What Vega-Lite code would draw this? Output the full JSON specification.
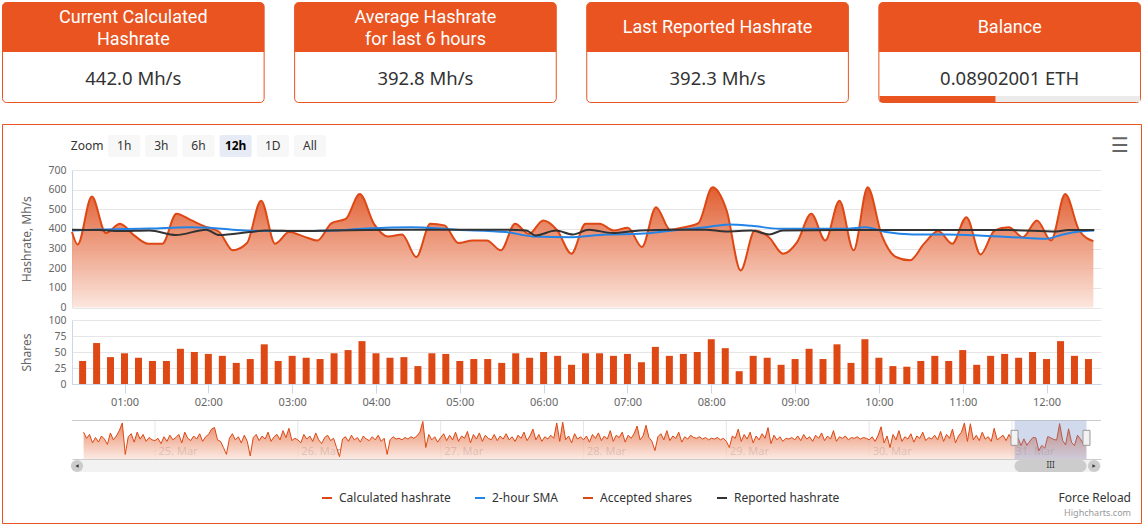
{
  "$schema": "https://vega.github.io/schema/vega-lite/v6.json",
  "width": 1144,
  "height": 526,
  "autosize": "none",
  "padding": 0,
  "background": "white",
  "config": {"view": {"stroke": null}, "font": "Noto Sans", "text": {"font": "Noto Sans"}},
  "title": {"text": "Force Reload", "subtitle": "Highcharts.com", "orient": "bottom", "anchor": "end", "frame": "group", "offset": -33, "dx": -13, "fontSize": 12, "fontWeight": "normal", "color": "#333333", "subtitleFontSize": 9, "subtitleColor": "#999999", "subtitlePadding": 4},
  "datasets": {
    "cards": [
      {"card": "c1", "title": "Current Calculated\nHashrate", "value": "442.0 Mh/s"},
      {"card": "c2", "title": "Average Hashrate\nfor last 6 hours", "value": "392.8 Mh/s"},
      {"card": "c3", "title": "Last Reported Hashrate", "value": "392.3 Mh/s"},
      {"card": "c4", "title": "Balance", "value": "0.08902001 ETH"}
    ],
    "balance": [{"part": "threshold", "from": 0, "to": 0.2}, {"part": "balance", "from": 0, "to": 0.08902001}],
    "buttons": [{"b": "Zoom"}, {"b": "1h"}, {"b": "3h"}, {"b": "6h"}, {"b": "12h"}, {"b": "1D"}, {"b": "All"}],
    "menu": [{"icon": "☰"}],
    "main": [
      {"h":0.433,"v":384},
      {"h":0.5,"v":321,"s":36},{"h":0.667,"v":565,"s":64},{"h":0.833,"v":379,"s":42},{"h":1,"v":426,"s":48},
      {"h":1.167,"v":367,"s":41},{"h":1.333,"v":325,"s":36},{"h":1.5,"v":325,"s":36},{"h":1.667,"v":477,"s":55},
      {"h":1.833,"v":446,"s":50},{"h":2,"v":413,"s":47},{"h":2.167,"v":387,"s":44},{"h":2.333,"v":291,"s":33},
      {"h":2.5,"v":328,"s":39},{"h":2.667,"v":544,"s":62},{"h":2.833,"v":325,"s":36},{"h":3,"v":384,"s":44},
      {"h":3.167,"v":362,"s":41},{"h":3.333,"v":341,"s":39},{"h":3.5,"v":430,"s":48},{"h":3.667,"v":451,"s":53},
      {"h":3.833,"v":578,"s":67},{"h":4,"v":426,"s":48},{"h":4.167,"v":362,"s":41},{"h":4.333,"v":372,"s":42},
      {"h":4.5,"v":257,"s":28},{"h":4.667,"v":426,"s":48},{"h":4.833,"v":418,"s":47},{"h":5,"v":328,"s":36},
      {"h":5.167,"v":341,"s":39},{"h":5.333,"v":341,"s":39},{"h":5.5,"v":291,"s":33},{"h":5.667,"v":426,"s":48},
      {"h":5.833,"v":375,"s":41},{"h":6,"v":443,"s":50},{"h":6.167,"v":392,"s":44},{"h":6.333,"v":274,"s":30},
      {"h":6.5,"v":426,"s":48},{"h":6.667,"v":426,"s":48},{"h":6.833,"v":392,"s":44},{"h":7,"v":406,"s":47},
      {"h":7.167,"v":308,"s":34},{"h":7.333,"v":511,"s":58},{"h":7.5,"v":396,"s":44},{"h":7.667,"v":409,"s":47},
      {"h":7.833,"v":430,"s":50},{"h":8,"v":612,"s":70},{"h":8.167,"v":494,"s":56},{"h":8.333,"v":189,"s":20},
      {"h":8.5,"v":392,"s":44},{"h":8.667,"v":358,"s":41},{"h":8.833,"v":274,"s":30},{"h":9,"v":333,"s":39},
      {"h":9.167,"v":477,"s":55},{"h":9.333,"v":341,"s":39},{"h":9.5,"v":544,"s":62},{"h":9.667,"v":291,"s":33},
      {"h":9.833,"v":612,"s":70},{"h":10,"v":367,"s":41},{"h":10.167,"v":257,"s":28},{"h":10.333,"v":240,"s":27},
      {"h":10.5,"v":325,"s":36},{"h":10.667,"v":389,"s":44},{"h":10.833,"v":325,"s":36},{"h":11,"v":460,"s":53},
      {"h":11.167,"v":270,"s":30},{"h":11.333,"v":392,"s":44},{"h":11.5,"v":409,"s":47},{"h":11.667,"v":358,"s":41},
      {"h":11.833,"v":443,"s":50},{"h":12,"v":341,"s":39},{"h":12.167,"v":578,"s":67},{"h":12.333,"v":392,"s":44},
      {"h":12.5,"v":338,"s":39}
    ],
    "sma": [
      {"h":0.433,"v":392},{"h":0.76,"v":397},{"h":1.35,"v":402},{"h":1.82,"v":409},{"h":2.06,"v":406},{"h":2.33,"v":396},
      {"h":2.72,"v":389},{"h":3.12,"v":389},{"h":3.51,"v":392},{"h":3.91,"v":402},{"h":4.44,"v":409},{"h":4.97,"v":396},
      {"h":5.56,"v":384},{"h":5.88,"v":362},{"h":6.35,"v":358},{"h":6.74,"v":372},{"h":7.14,"v":375},{"h":7.53,"v":392},
      {"h":7.92,"v":409},{"h":8.2,"v":423},{"h":8.46,"v":416},{"h":8.79,"v":401},{"h":9.18,"v":401},{"h":9.58,"v":401},
      {"h":9.81,"v":409},{"h":10.05,"v":384},{"h":10.37,"v":372},{"h":10.76,"v":372},{"h":11.15,"v":367},{"h":11.55,"v":358},
      {"h":11.94,"v":350},{"h":12.14,"v":372},{"h":12.33,"v":387},{"h":12.51,"v":392}
    ],
    "rep": [
      {"h":0.433,"v":396},{"h":0.76,"v":394},{"h":1.0,"v":389},{"h":1.35,"v":392},{"h":1.66,"v":369},{"h":2.02,"v":396},
      {"h":2.17,"v":369},{"h":2.53,"v":384},{"h":2.72,"v":392},{"h":3.12,"v":389},{"h":3.51,"v":392},{"h":3.91,"v":394},
      {"h":4.44,"v":396},{"h":5.56,"v":396},{"h":5.8,"v":392},{"h":5.91,"v":367},{"h":6.15,"v":392},{"h":6.35,"v":372},
      {"h":6.54,"v":396},{"h":6.82,"v":379},{"h":7.14,"v":392},{"h":7.53,"v":396},{"h":7.92,"v":396},{"h":8.16,"v":387},
      {"h":8.46,"v":392},{"h":8.67,"v":372},{"h":8.83,"v":392},{"h":9.5,"v":394},{"h":10.5,"v":394},{"h":11.5,"v":394},
      {"h":12.06,"v":387},{"h":12.2,"v":394},{"h":12.51,"v":394}
    ],
    "zoomrange": [{"start": 168.42, "end": 180.51, "mid": 174.47}],
    "handles": [{"e": 168.42}, {"e": 180.51}],
    "days": [{"t": 24}, {"t": 48}, {"t": 72}, {"t": 96}, {"t": 120}, {"t": 144}, {"t": 168}],
    "scrollends": [{"t": 10.89, "dir": "left"}, {"t": 181.78, "dir": "right"}],
    "navframe": [{"from": 10.05, "to": 182.95}],
    "nav": [
      {"t":12,"v":500},{"t":12.5,"v":420},{"t":13,"v":470},{"t":13.5,"v":360},{"t":14,"v":430},{"t":14.5,"v":370},{"t":15,"v":450},{"t":15.5,"v":410},
      {"t":16,"v":340},{"t":16.5,"v":490},{"t":17,"v":400},{"t":17.5,"v":450},{"t":18,"v":520},{"t":18.5,"v":620},{"t":19,"v":210},{"t":19.5,"v":440},
      {"t":20,"v":480},{"t":20.5,"v":370},{"t":21,"v":500},{"t":21.5,"v":410},{"t":22,"v":470},{"t":22.5,"v":380},{"t":23,"v":430},{"t":23.5,"v":400},
      {"t":24,"v":390},{"t":24.5,"v":420},{"t":25,"v":350},{"t":25.5,"v":440},{"t":26,"v":380},{"t":26.5,"v":460},{"t":27,"v":400},{"t":27.5,"v":430},
      {"t":28,"v":470},{"t":28.5,"v":360},{"t":29,"v":500},{"t":29.5,"v":420},{"t":30,"v":390},{"t":30.5,"v":450},{"t":31,"v":410},{"t":31.5,"v":480},
      {"t":32,"v":380},{"t":32.5,"v":440},{"t":33,"v":470},{"t":33.5,"v":540},{"t":34,"v":560},{"t":34.5,"v":400},{"t":35,"v":380},{"t":35.5,"v":300},
      {"t":36,"v":210},{"t":36.5,"v":420},{"t":37,"v":480},{"t":37.5,"v":400},{"t":38,"v":440},{"t":38.5,"v":360},{"t":39,"v":460},{"t":39.5,"v":380},
      {"t":40,"v":190},{"t":40.5,"v":430},{"t":41,"v":470},{"t":41.5,"v":390},{"t":42,"v":450},{"t":42.5,"v":410},{"t":43,"v":500},{"t":43.5,"v":380},
      {"t":44,"v":440},{"t":44.5,"v":470},{"t":45,"v":400},{"t":45.5,"v":520},{"t":46,"v":430},{"t":46.5,"v":550},{"t":47,"v":390},{"t":47.5,"v":420},
      {"t":48,"v":400},{"t":48.5,"v":360},{"t":49,"v":470},{"t":49.5,"v":410},{"t":50,"v":450},{"t":50.5,"v":380},{"t":51,"v":490},{"t":51.5,"v":400},
      {"t":52,"v":350},{"t":52.5,"v":430},{"t":53,"v":460},{"t":53.5,"v":390},{"t":54,"v":420},{"t":54.5,"v":300},{"t":55,"v":180},{"t":55.5,"v":410},
      {"t":56,"v":440},{"t":56.5,"v":380},{"t":57,"v":460},{"t":57.5,"v":400},{"t":58,"v":430},{"t":58.5,"v":370},{"t":59,"v":450},{"t":59.5,"v":410},
      {"t":60,"v":390},{"t":60.5,"v":440},{"t":61,"v":400},{"t":61.5,"v":460},{"t":62,"v":380},{"t":62.5,"v":420},{"t":63,"v":210},{"t":63.5,"v":400},
      {"t":64,"v":440},{"t":64.5,"v":410},{"t":65,"v":420},{"t":65.5,"v":400},{"t":66,"v":430},{"t":66.5,"v":410},{"t":67,"v":440},{"t":67.5,"v":420},
      {"t":68,"v":450},{"t":68.5,"v":500},{"t":69,"v":640},{"t":69.5,"v":300},{"t":70,"v":470},{"t":70.5,"v":400},{"t":71,"v":440},{"t":71.5,"v":370},
      {"t":72,"v":430},{"t":72.5,"v":480},{"t":73,"v":390},{"t":73.5,"v":460},{"t":74,"v":400},{"t":74.5,"v":500},{"t":75,"v":380},{"t":75.5,"v":450},
      {"t":76,"v":420},{"t":76.5,"v":510},{"t":77,"v":360},{"t":77.5,"v":470},{"t":78,"v":410},{"t":78.5,"v":490},{"t":79,"v":380},{"t":79.5,"v":460},
      {"t":80,"v":420},{"t":80.5,"v":400},{"t":81,"v":470},{"t":81.5,"v":390},{"t":82,"v":450},{"t":82.5,"v":410},{"t":83,"v":480},{"t":83.5,"v":400},
      {"t":84,"v":440},{"t":84.5,"v":380},{"t":85,"v":460},{"t":85.5,"v":420},{"t":86,"v":500},{"t":86.5,"v":390},{"t":87,"v":450},{"t":87.5,"v":540},
      {"t":88,"v":400},{"t":88.5,"v":470},{"t":89,"v":380},{"t":89.5,"v":440},{"t":90,"v":410},{"t":90.5,"v":460},{"t":91,"v":420},{"t":91.5,"v":620},
      {"t":92,"v":380},{"t":92.5,"v":630},{"t":93,"v":400},{"t":93.5,"v":450},{"t":94,"v":360},{"t":94.5,"v":480},{"t":95,"v":410},{"t":95.5,"v":440},
      {"t":96,"v":400},{"t":96.5,"v":450},{"t":97,"v":370},{"t":97.5,"v":470},{"t":98,"v":420},{"t":98.5,"v":490},{"t":99,"v":390},{"t":99.5,"v":450},
      {"t":100,"v":410},{"t":100.5,"v":520},{"t":101,"v":380},{"t":101.5,"v":460},{"t":102,"v":430},{"t":102.5,"v":500},{"t":103,"v":370},{"t":103.5,"v":460},
      {"t":104,"v":420},{"t":104.5,"v":480},{"t":105,"v":580},{"t":105.5,"v":400},{"t":106,"v":450},{"t":106.5,"v":590},{"t":107,"v":430},{"t":107.5,"v":380},
      {"t":108,"v":260},{"t":108.5,"v":440},{"t":109,"v":480},{"t":109.5,"v":400},{"t":110,"v":520},{"t":110.5,"v":390},{"t":111,"v":450},{"t":111.5,"v":420},
      {"t":112,"v":500},{"t":112.5,"v":370},{"t":113,"v":440},{"t":113.5,"v":410},{"t":114,"v":460},{"t":114.5,"v":430},{"t":115,"v":420},{"t":115.5,"v":440},
      {"t":116,"v":410},{"t":116.5,"v":430},{"t":117,"v":400},{"t":117.5,"v":420},{"t":118,"v":410},{"t":118.5,"v":430},{"t":119,"v":400},{"t":119.5,"v":420},
      {"t":120,"v":380},{"t":120.5,"v":300},{"t":121,"v":450},{"t":121.5,"v":420},{"t":122,"v":540},{"t":122.5,"v":380},{"t":123,"v":470},{"t":123.5,"v":410},
      {"t":124,"v":500},{"t":124.5,"v":360},{"t":125,"v":450},{"t":125.5,"v":400},{"t":126,"v":480},{"t":126.5,"v":420},{"t":127,"v":560},{"t":127.5,"v":350},
      {"t":128,"v":460},{"t":128.5,"v":400},{"t":129,"v":440},{"t":129.5,"v":380},{"t":130,"v":420},{"t":130.5,"v":410},{"t":131,"v":430},{"t":131.5,"v":400},
      {"t":132,"v":450},{"t":132.5,"v":390},{"t":133,"v":470},{"t":133.5,"v":410},{"t":134,"v":440},{"t":134.5,"v":380},{"t":135,"v":460},{"t":135.5,"v":420},
      {"t":136,"v":490},{"t":136.5,"v":390},{"t":137,"v":450},{"t":137.5,"v":410},{"t":138,"v":520},{"t":138.5,"v":380},{"t":139,"v":440},{"t":139.5,"v":420},
      {"t":140,"v":450},{"t":140.5,"v":400},{"t":141,"v":430},{"t":141.5,"v":420},{"t":142,"v":440},{"t":142.5,"v":410},{"t":143,"v":430},{"t":143.5,"v":420},
      {"t":144,"v":400},{"t":144.5,"v":440},{"t":145,"v":380},{"t":145.5,"v":460},{"t":146,"v":570},{"t":146.5,"v":360},{"t":147,"v":450},{"t":147.5,"v":300},
      {"t":148,"v":470},{"t":148.5,"v":400},{"t":149,"v":520},{"t":149.5,"v":380},{"t":150,"v":440},{"t":150.5,"v":410},{"t":151,"v":480},{"t":151.5,"v":370},
      {"t":152,"v":450},{"t":152.5,"v":420},{"t":153,"v":500},{"t":153.5,"v":390},{"t":154,"v":430},{"t":154.5,"v":410},{"t":155,"v":460},{"t":155.5,"v":400},
      {"t":156,"v":510},{"t":156.5,"v":380},{"t":157,"v":470},{"t":157.5,"v":420},{"t":158,"v":540},{"t":158.5,"v":360},{"t":159,"v":450},{"t":159.5,"v":500},
      {"t":160,"v":620},{"t":160.5,"v":380},{"t":161,"v":610},{"t":161.5,"v":400},{"t":162,"v":460},{"t":162.5,"v":390},{"t":163,"v":500},{"t":163.5,"v":410},
      {"t":164,"v":440},{"t":164.5,"v":380},{"t":165,"v":550},{"t":165.5,"v":400},{"t":166,"v":430},{"t":166.5,"v":460},{"t":167,"v":390},{"t":167.5,"v":470},
      {"t":168,"v":400},{"t":168.5,"v":321},{"t":169,"v":426},{"t":169.5,"v":325},{"t":170,"v":413},{"t":170.5,"v":328},{"t":171,"v":384},{"t":171.5,"v":430},
      {"t":172,"v":426},{"t":172.5,"v":257},{"t":173,"v":328},{"t":173.5,"v":291},{"t":174,"v":443},{"t":174.5,"v":426},{"t":175,"v":406},{"t":175.5,"v":396},
      {"t":176,"v":612},{"t":176.5,"v":392},{"t":177,"v":333},{"t":177.5,"v":544},{"t":178,"v":367},{"t":178.5,"v":325},{"t":179,"v":460},{"t":179.5,"v":409},
      {"t":180,"v":341},{"t":180.5,"v":338}
    ]
  },
  "layer": [
    {
      "data": {"name": "cards"},
      "encoding": {
        "x": {"field": "card", "type": "nominal", "scale": {"domain": ["c1", "c2", "c3", "c4"], "range": [2.5, 1140.5], "paddingInner": 0.1044, "paddingOuter": 0}, "axis": null}
      },
      "layer": [
        {"mark": {"type": "rect", "fill": "white", "stroke": "#e95420", "strokeWidth": 1, "cornerRadius": 4},
         "encoding": {"y": {"datum": 0.5, "type": "quantitative", "scale": {"domain": [0, 101], "range": [103, 2]}, "axis": null}, "y2": {"datum": 100.5}}},
        {"mark": {"type": "rect", "fill": "#e95420", "cornerRadiusTopLeft": 4, "cornerRadiusTopRight": 4},
         "encoding": {"y": {"datum": 51, "type": "quantitative", "scale": {"domain": [0, 101], "range": [103, 2]}, "axis": null}, "y2": {"datum": 100.5}}},
        {"transform": [{"filter": "indexof(datum.title, '\\n') >= 0"}],
         "mark": {"type": "text", "font": "Roboto", "color": "white", "fontSize": 18, "lineBreak": "\n", "lineHeight": 22, "baseline": "middle", "align": "center"},
         "encoding": {"y": {"datum": 85.5, "type": "quantitative", "scale": {"domain": [0, 101], "range": [103, 2]}, "axis": null}, "text": {"field": "title", "type": "nominal"}}},
        {"transform": [{"filter": "indexof(datum.title, '\\n') < 0"}],
         "mark": {"type": "text", "font": "Roboto", "color": "white", "fontSize": 18, "baseline": "middle", "align": "center"},
         "encoding": {"y": {"datum": 75, "type": "quantitative", "scale": {"domain": [0, 101], "range": [103, 2]}, "axis": null}, "text": {"field": "title", "type": "nominal"}}},
        {"mark": {"type": "text", "color": "#333333", "fontSize": 18.5, "baseline": "middle", "align": "center"},
         "encoding": {"y": {"datum": 24, "type": "quantitative", "scale": {"domain": [0, 101], "range": [103, 2]}, "axis": null}, "text": {"field": "value", "type": "nominal"}}}
      ]
    },
    {
      "data": {"name": "balance"},
      "mark": {"type": "rect"},
      "encoding": {
        "x": {"field": "from", "type": "quantitative", "scale": {"domain": [0, 0.2], "range": [879.5, 1140]}, "axis": null},
        "x2": {"field": "to"},
        "y": {"datum": 7, "type": "quantitative", "scale": {"domain": [0, 101], "range": [103, 2]}, "axis": null},
        "y2": {"datum": 1},
        "fill": {"condition": {"test": "datum.part === 'balance'", "value": "#e95420"}, "value": "#ebebeb"}
      }
    },
    {
      "data": {"name": "menu"},
      "layer": [
        {"mark": {"type": "rect", "fill": "transparent", "stroke": "#e95420", "strokeWidth": 1},
         "encoding": {
           "x": {"datum": 0, "type": "quantitative", "scale": {"domain": [0, 1], "range": [2.5, 1141.5]}, "axis": null},
           "x2": {"datum": 1},
           "y": {"datum": 0, "type": "quantitative", "scale": {"domain": [0, 1], "range": [523.5, 124.5]}, "axis": null},
           "y2": {"datum": 1}}},
        {"mark": {"type": "text", "font": "DejaVu Sans", "fontSize": 20, "color": "#666666", "baseline": "middle", "align": "center"},
         "encoding": {
           "x": {"datum": 0.9811, "type": "quantitative", "scale": {"domain": [0, 1], "range": [2.5, 1141.5]}, "axis": null},
           "y": {"datum": 0.946, "type": "quantitative", "scale": {"domain": [0, 1], "range": [523.5, 124.5]}, "axis": null},
           "text": {"field": "icon", "type": "nominal"}}}
      ]
    },
    {
      "data": {"name": "buttons"},
      "encoding": {
        "x": {"field": "b", "type": "nominal", "sort": null, "scale": {"domain": ["Zoom", "1h", "3h", "6h", "12h", "1D", "All"], "range": [71, 326], "paddingInner": 0.135, "paddingOuter": 0}, "axis": null}
      },
      "layer": [
        {"transform": [{"filter": "datum.b !== 'Zoom'"}],
         "mark": {"type": "rect", "cornerRadius": 2},
         "encoding": {
           "y": {"datum": 0, "type": "quantitative", "scale": {"domain": [0, 1], "range": [157, 135]}, "axis": null},
           "y2": {"datum": 1},
           "fill": {"condition": {"test": "datum.b === '12h'", "value": "#e6ebf5"}, "value": "#f7f7f7"}
         }},
        {"transform": [{"filter": "datum.b !== '12h'"}],
         "mark": {"type": "text", "fontSize": 12, "baseline": "middle", "align": "center", "color": "#333333"},
         "encoding": {"y": {"datum": 0.5, "type": "quantitative", "scale": {"domain": [0, 1], "range": [157, 135]}, "axis": null}, "text": {"field": "b", "type": "nominal"}}},
        {"transform": [{"filter": "datum.b === '12h'"}],
         "mark": {"type": "text", "fontSize": 12, "fontWeight": "bold", "baseline": "middle", "align": "center", "color": "#000000"},
         "encoding": {"y": {"datum": 0.5, "type": "quantitative", "scale": {"domain": [0, 1], "range": [157, 135]}, "axis": null}, "text": {"field": "b", "type": "nominal"}}}
      ]
    },
    {
      "encoding": {
        "x": {"field": "h", "type": "quantitative", "scale": {"domain": [0.433, 12.59], "range": [72, 1101]}, "axis": null},
        "y": {"field": "v", "type": "quantitative", "scale": {"domain": [0, 700], "range": [307.5, 170]},
              "axis": {"orient": "left", "offset": -72, "values": [0, 100, 200, 300, 400, 500, 600, 700], "grid": true, "gridColor": "#e6e6e6", "domain": true, "domainColor": "#ccd6eb", "ticks": false, "labelPadding": 6, "labelColor": "#666666", "labelFontSize": 10.5, "title": "Hashrate, Mh/s", "titleColor": "#666666", "titleFontWeight": "normal", "titleFontSize": 12, "titlePadding": 14}}
      },
      "layer": [
        {"data": {"name": "main"},
         "mark": {"type": "area", "interpolate": "monotone", "fillOpacity": 0.88,
                  "fill": {"x1": 0, "y1": 0, "x2": 0, "y2": 1, "gradient": "linear", "stops": [{"offset": 0, "color": "#dd4814"}, {"offset": 1, "color": "#fbe3da"}]}}},
        {"data": {"name": "main"},
         "mark": {"type": "line", "interpolate": "monotone", "strokeWidth": 2},
         "encoding": {"color": {"datum": "Calculated hashrate", "type": "nominal",
           "scale": {"domain": ["Calculated hashrate", "2-hour SMA", "Accepted shares", "Reported hashrate"], "range": ["#dd4814", "#2384e8", "#dd4814", "#333333"]},
           "legend": {"orient": "none", "legendX": 321, "legendY": 492, "direction": "horizontal", "columns": 4, "title": null, "labelFontSize": 12, "labelColor": "#333333", "labelFont": "Noto Sans", "columnPadding": 20, "labelOffset": 6, "symbolStrokeWidth": 2}}}},
        {"data": {"name": "sma"},
         "mark": {"type": "line", "interpolate": "monotone", "strokeWidth": 2},
         "encoding": {"color": {"datum": "2-hour SMA", "type": "nominal"}}},
        {"data": {"name": "rep"},
         "mark": {"type": "line", "interpolate": "monotone", "strokeWidth": 2},
         "encoding": {"color": {"datum": "Reported hashrate", "type": "nominal"}}}
      ]
    },
    {
      "data": {"name": "main"},
      "mark": {"type": "bar", "width": 7},
      "encoding": {
        "x": {"field": "h", "type": "quantitative", "scale": {"domain": [0.433, 12.59], "range": [72, 1101]},
              "axis": {"orient": "bottom", "offset": -142, "values": [1, 2, 3, 4, 5, 6, 7, 8, 9, 10, 11, 12], "labelExpr": "(datum.value < 10 ? '0' : '') + datum.value + ':00'", "grid": false, "domainColor": "#ccd6eb", "tickColor": "#ccd6eb", "tickSize": 9, "labelPadding": 3, "labelColor": "#666666", "labelFontSize": 11, "labelFlush": false, "title": null}},
        "y": {"field": "s", "type": "quantitative", "scale": {"domain": [0, 100], "range": [384, 320]},
              "axis": {"orient": "left", "offset": -72, "values": [0, 25, 50, 75, 100], "grid": true, "gridColor": "#e6e6e6", "domain": true, "domainColor": "#ccd6eb", "ticks": false, "labelPadding": 6, "labelColor": "#666666", "labelFontSize": 10.5, "title": "Shares", "titleColor": "#666666", "titleFontWeight": "normal", "titleFontSize": 12, "titlePadding": 14}},
        "color": {"datum": "Accepted shares", "type": "nominal"}
      }
    },
    {
      "encoding": {
        "x": {"field": "t", "type": "quantitative", "scale": {"domain": [10.05, 182.95], "range": [72, 1101]},
              "axis": {"orient": "bottom", "offset": -67, "values": [24, 48, 72, 96, 120, 144, 168], "labelExpr": "(24 + datum.value / 24) + '. Mar'", "tickSize": 0, "labelAlign": "left", "labelBaseline": "alphabetic", "labelPadding": -5, "labelOffset": 3, "labelFlush": false, "labelColor": "#999999", "labelFontSize": 11, "grid": false, "domainColor": "#cccccc", "title": null}}
      },
      "layer": [
        {"data": {"name": "days"},
         "mark": {"type": "rule", "color": "#e6e6e6", "strokeWidth": 1},
         "encoding": {"y": {"datum": 652, "type": "quantitative", "scale": {"domain": [150, 652], "range": [459, 420.5]}, "axis": null}, "y2": {"datum": 150}}},
        {"data": {"name": "nav"},
         "mark": {"type": "area", "fillOpacity": 0.75,
                  "fill": {"x1": 0, "y1": 0, "x2": 0, "y2": 1, "gradient": "linear", "stops": [{"offset": 0, "color": "#e2602f"}, {"offset": 1, "color": "#fbe3da"}]}},
         "encoding": {"y": {"field": "v", "type": "quantitative", "scale": {"domain": [150, 652], "range": [459, 420.5]}, "axis": null}, "y2": {"datum": 150}}},
        {"data": {"name": "nav"},
         "mark": {"type": "line", "color": "#dd4814", "strokeWidth": 1},
         "encoding": {"y": {"field": "v", "type": "quantitative", "scale": {"domain": [150, 652], "range": [459, 420.5]}, "axis": null}}},
        {"data": {"name": "navframe"},
         "mark": {"type": "rule", "color": "#cccccc", "strokeWidth": 1},
         "encoding": {"x": {"field": "from", "type": "quantitative"}, "x2": {"field": "to"}, "y": {"datum": 652, "type": "quantitative", "scale": {"domain": [150, 652], "range": [459, 420.5]}, "axis": null}}},
        {"data": {"name": "zoomrange"},
         "mark": {"type": "rect", "fill": "#6685c2", "fillOpacity": 0.3},
         "encoding": {"x": {"field": "start", "type": "quantitative"}, "x2": {"field": "end"}, "y": {"datum": 652, "type": "quantitative", "scale": {"domain": [150, 652], "range": [459, 420.5]}, "axis": null}, "y2": {"datum": 150}}},
        {"data": {"name": "handles"},
         "mark": {"type": "point", "shape": "M-0.467,-1H0.467V1H-0.467Z", "size": 225, "filled": true, "fill": "#f2f2f2", "stroke": "#999999", "strokeWidth": 1, "opacity": 1},
         "encoding": {"x": {"field": "e", "type": "quantitative"}, "y": {"datum": 426, "type": "quantitative", "scale": {"domain": [150, 652], "range": [459, 420.5]}, "axis": null}}}
      ]
    },
    {
      "encoding": {
        "x": {"field": "t", "type": "quantitative", "scale": {"domain": [10.05, 182.95], "range": [72, 1101]}, "axis": null}
      },
      "layer": [
        {"data": {"name": "navframe"},
         "mark": {"type": "rect", "fill": "#f2f2f2", "cornerRadius": 6},
         "encoding": {"x": {"field": "from", "type": "quantitative"}, "x2": {"field": "to"},
                      "y": {"datum": 0, "type": "quantitative", "scale": {"domain": [0, 1], "range": [472, 460]}, "axis": null}, "y2": {"datum": 1}}},
        {"data": {"name": "zoomrange"},
         "mark": {"type": "rect", "fill": "#cccccc", "cornerRadius": 6},
         "encoding": {"x": {"field": "start", "type": "quantitative"}, "x2": {"field": "end"},
                      "y": {"datum": 0, "type": "quantitative", "scale": {"domain": [0, 1], "range": [472, 460]}, "axis": null}, "y2": {"datum": 1}}},
        {"data": {"name": "scrollends"},
         "mark": {"type": "point", "shape": "circle", "filled": true, "size": 150, "color": "#cccccc", "opacity": 1},
         "encoding": {"y": {"datum": 0.5, "type": "quantitative", "scale": {"domain": [0, 1], "range": [472, 460]}, "axis": null}}},
        {"data": {"name": "scrollends"},
         "mark": {"type": "point", "filled": true, "size": 14, "color": "#333333", "opacity": 1},
         "encoding": {"y": {"datum": 0.5, "type": "quantitative", "scale": {"domain": [0, 1], "range": [472, 460]}, "axis": null},
                      "shape": {"field": "dir", "type": "nominal", "scale": {"domain": ["left", "right"], "range": ["triangle-left", "triangle-right"]}, "legend": null}}},
        {"data": {"name": "zoomrange"},
         "mark": {"type": "text", "text": "III", "fontSize": 8, "color": "#333333", "baseline": "middle", "align": "center"},
         "encoding": {"x": {"field": "mid", "type": "quantitative"}, "y": {"datum": 0.5, "type": "quantitative", "scale": {"domain": [0, 1], "range": [472, 460]}, "axis": null}}}
      ]
    }
  ],
  "resolve": {"scale": {"x": "independent", "y": "independent"}, "axis": {"x": "independent", "y": "independent"}}
}
